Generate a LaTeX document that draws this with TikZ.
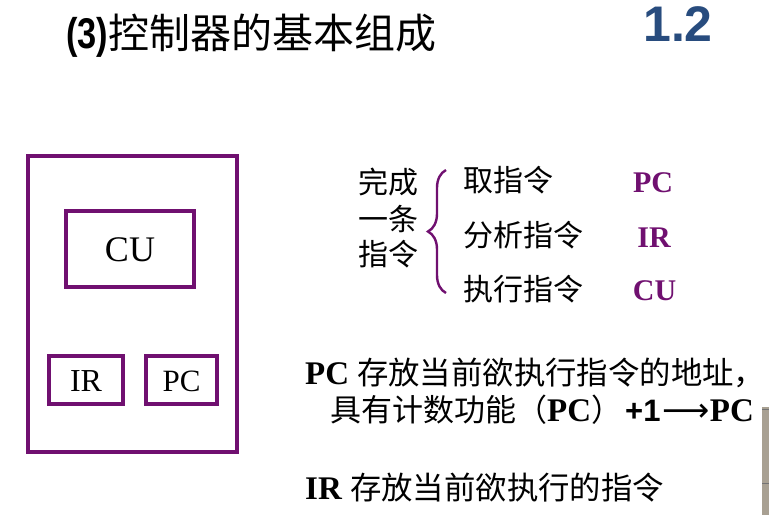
\documentclass[tikz,border=0pt]{standalone}
\usepackage{fontspec}
\setmainfont{Liberation Serif}
\newfontfamily\cjk{Noto Sans CJK SC}
\newfontfamily\arialb{Liberation Sans}
\newfontfamily\arialn{Liberation Sans}[FakeStretch=0.8]
\newfontfamily\dejavu{DejaVu Sans}
\usetikzlibrary{decorations.pathreplacing}
\definecolor{vio}{RGB}{112,16,112}
\definecolor{numblue}{RGB}{40,76,126}
\definecolor{barg}{RGB}{168,160,146}
\begin{document}
\begin{tikzpicture}[x=1pt,y=-1pt,
  box/.style={draw=vio,line width=3.5pt},
  regtxt/.style={font=\fontsize{31}{31}\selectfont,inner sep=0pt},
  cn/.style={font=\fontsize{30}{30}\selectfont\cjk,inner sep=0pt,anchor=west},
  vreg/.style={font=\fontsize{30}{30}\selectfont\bfseries,text=vio,inner sep=0pt},
  body/.style={font=\fontsize{31}{31}\selectfont,inner sep=0pt,anchor=west}]
\useasboundingbox (0,0) rectangle (769,515);
\fill[white] (0,0) rectangle (769,515);
% title
\node[anchor=west,inner sep=0pt] (title) at (66,36)
  {\fontsize{43}{43}\selectfont\arialn\bfseries (3)\mdseries\cjk\fontsize{41}{41}\selectfont 控制器的基本组成};
\node[anchor=east,inner sep=0pt,text=numblue,font=\fontsize{50}{50}\selectfont\arialb\bfseries] (num) at (713,24) {1.2};
% boxes
\draw[box] (28,156) rectangle (237,452);
\draw[box] (66,211) rectangle (194,287);
\node[regtxt,font=\fontsize{36}{36}\selectfont] (cu) at (130,250) {CU};
\draw[box] (49,356) rectangle (123,404);
\node[regtxt,font=\fontsize{32}{32}\selectfont] (ir) at (86,381) {IR};
\draw[box] (146,356) rectangle (217,404);
\node[regtxt] (pc) at (181.5,381) {PC};
% brace group
\node[cn] (l1) at (358,182) {完成};
\node[cn] (l2) at (358,219) {一条};
\node[cn] (l3) at (358,254) {指令};
\draw[vio,line width=2.4pt,decorate,decoration={brace,amplitude=18pt,raise=0pt}]
  (446,293) -- (446,170);
\node[cn] (s1) at (463,180) {取指令};
\node[cn] (s2) at (463,235) {分析指令};
\node[cn] (s3) at (463,289) {执行指令};
\node[vreg] (vpc) at (653,183) {PC};
\node[vreg] (vir) at (654,238) {IR};
\node[vreg] (vcu) at (654.5,291) {CU};
% bottom text
\node[body] (t1) at (305,373) {{\fontsize{33}{33}\selectfont\textbf{PC}}\hspace{8pt}\cjk\fontsize{31.4}{31.4}\selectfont 存放当前欲执行指令的地址，};
\node[body] (t2) at (330,410) {\cjk 具有计数功能（{\rmfamily\fontsize{33}{33}\selectfont\textbf{PC}}）\hspace{3pt}{\arialb\bfseries +1}\hspace{2pt}{\dejavu\fontsize{33}{33}\selectfont ⟶}{\rmfamily\fontsize{33}{33}\selectfont\textbf{PC}}};
\node[body] (t3) at (305,488) {{\fontsize{33}{33}\selectfont\textbf{IR}}\hspace{8pt}\cjk\fontsize{31.4}{31.4}\selectfont 存放当前欲执行的指令};
% screen edge
\fill[barg] (762,407) rectangle (769,515);
\draw[black!55,line width=0.6pt] (762,409) -- (769,409);
\draw[black!55,line width=0.6pt] (762,483) -- (769,483);
\end{tikzpicture}
\end{document}
